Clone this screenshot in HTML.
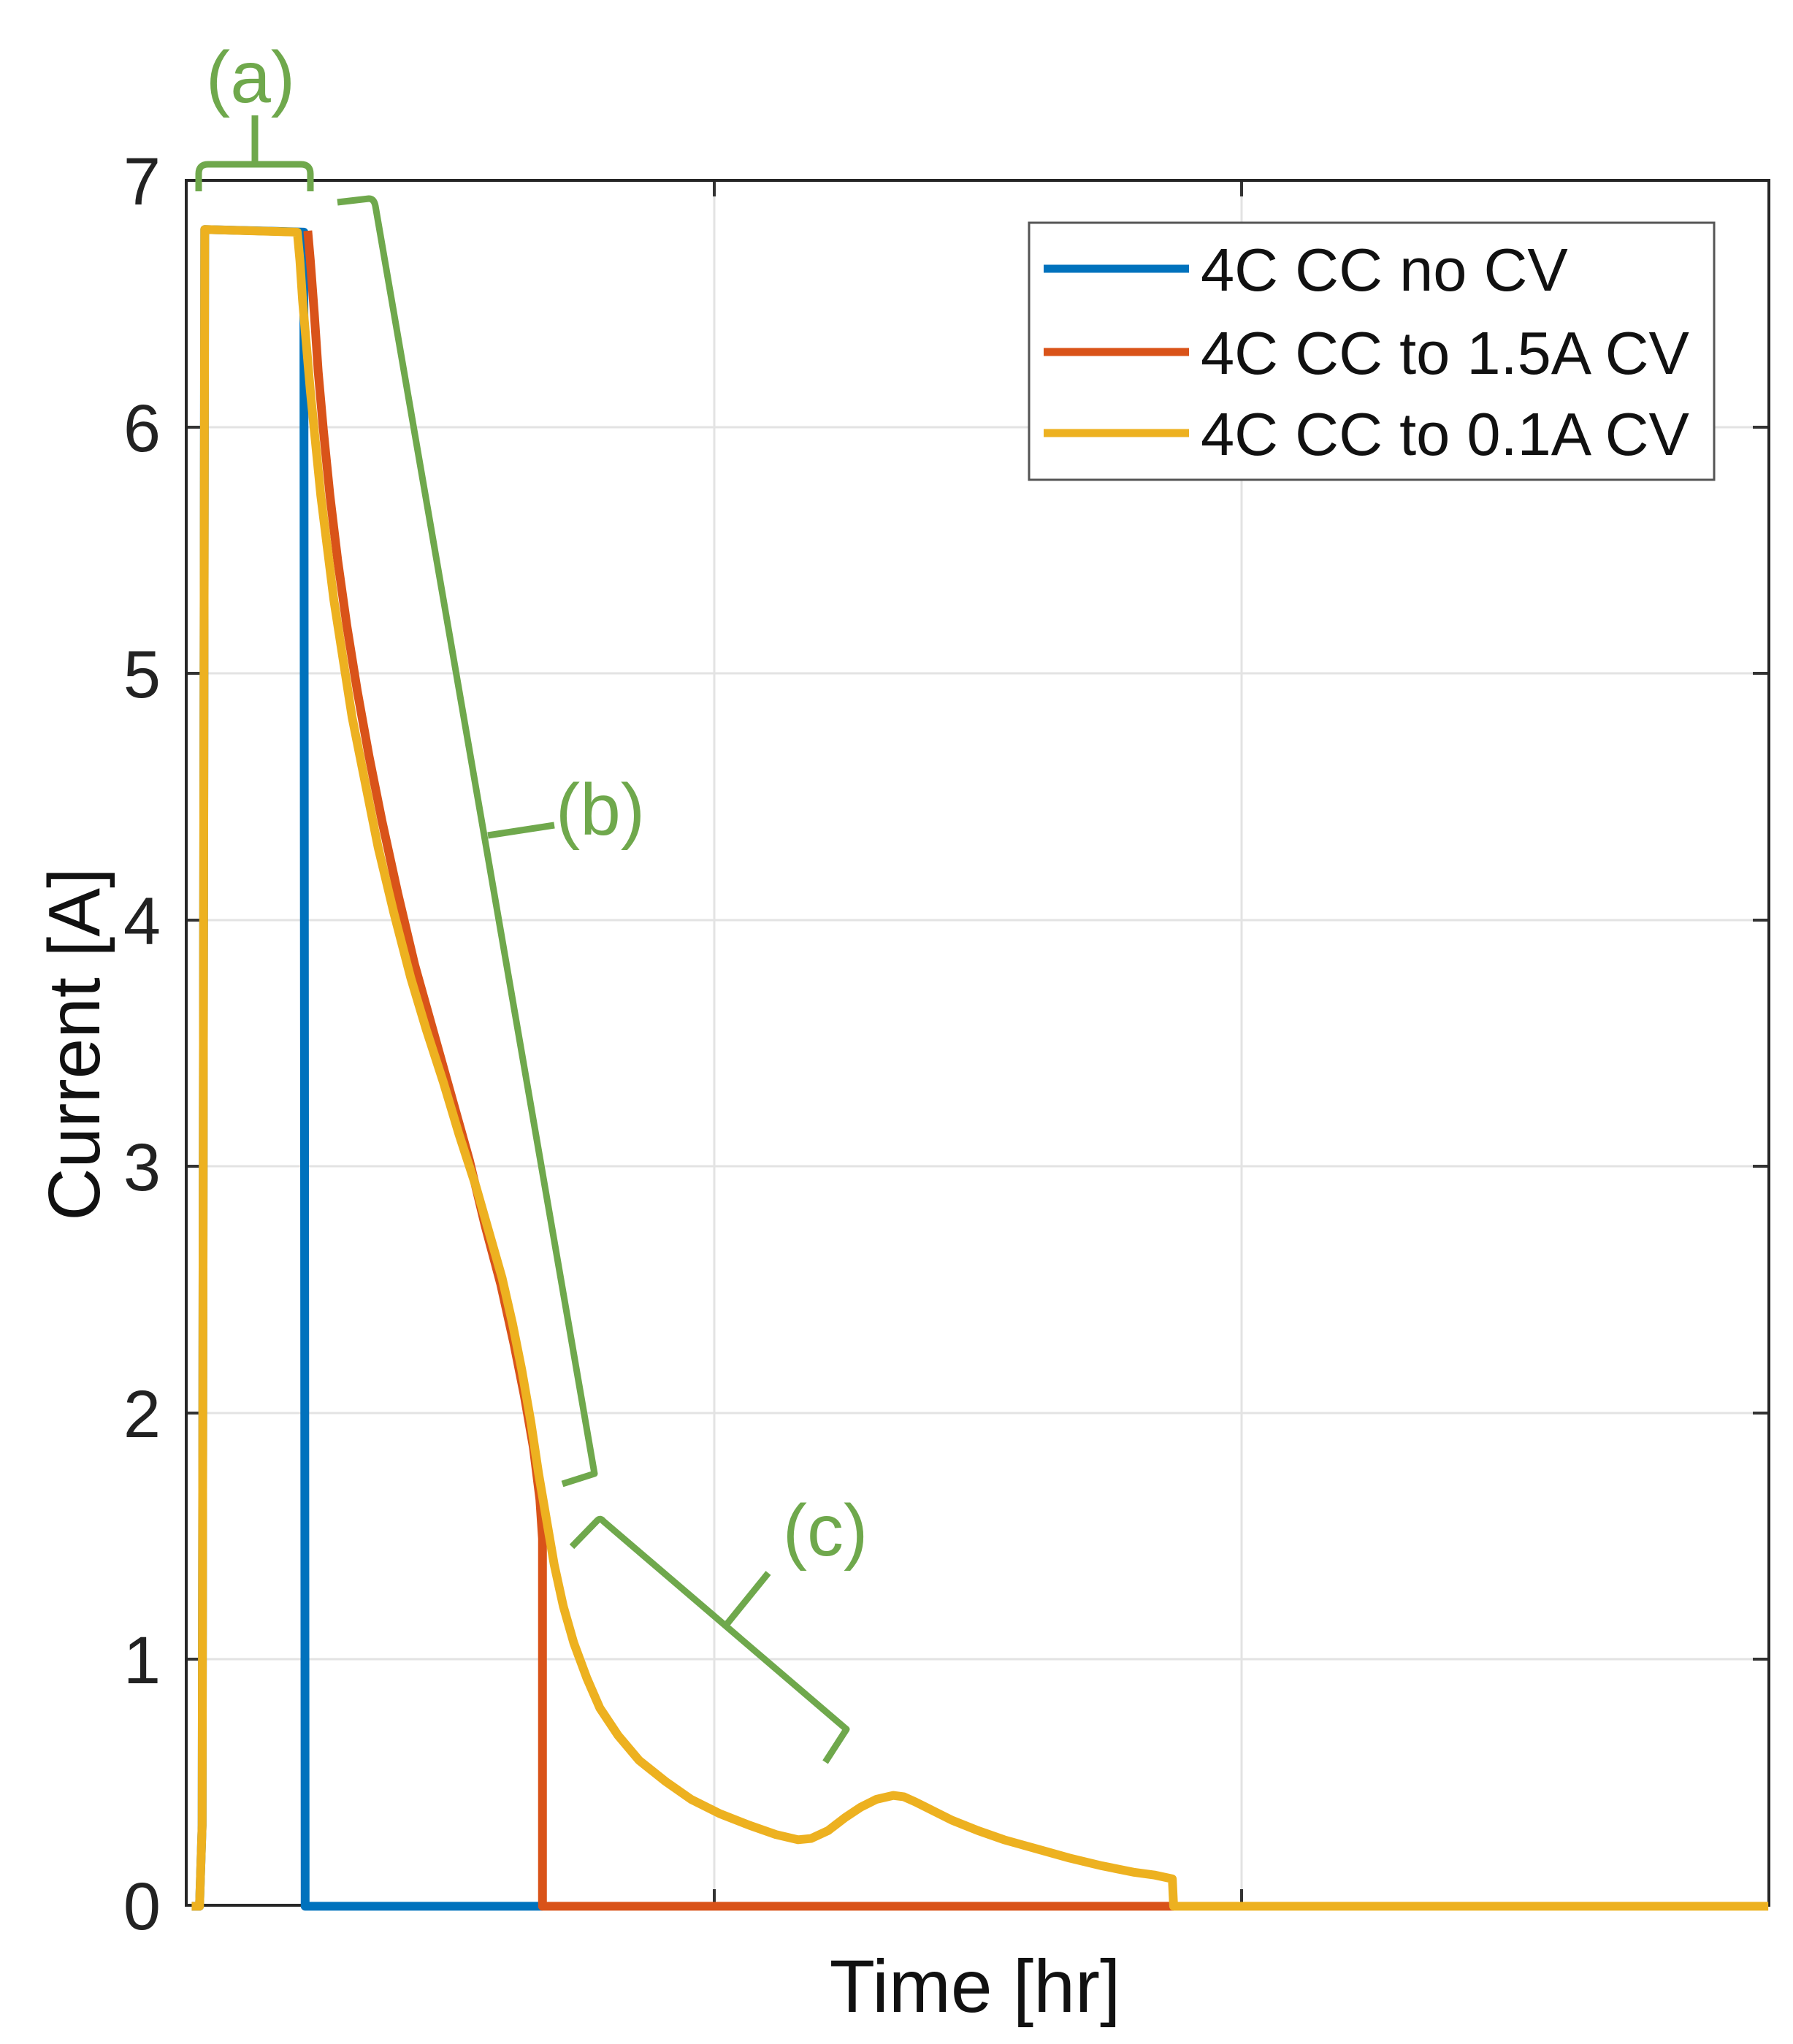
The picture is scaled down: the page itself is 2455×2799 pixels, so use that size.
<!DOCTYPE html>
<html><head><meta charset="utf-8"><style>
html,body{margin:0;padding:0;background:#fff;}
svg{display:block;}
text{font-family:"Liberation Sans",Arial,sans-serif;}
</style></head><body>
<svg width="2455" height="2799" viewBox="0 0 2455 2799" xmlns="http://www.w3.org/2000/svg">
<rect width="2455" height="2799" fill="#fff"/>
<g stroke="#e3e3e3" stroke-width="3">
<line x1="255" x2="2422" y1="2272" y2="2272"/>
<line x1="255" x2="2422" y1="1935" y2="1935"/>
<line x1="255" x2="2422" y1="1597" y2="1597"/>
<line x1="255" x2="2422" y1="1260" y2="1260"/>
<line x1="255" x2="2422" y1="922" y2="922"/>
<line x1="255" x2="2422" y1="585" y2="585"/>
<line x1="978" x2="978" y1="247" y2="2609"/>
<line x1="1700" x2="1700" y1="247" y2="2609"/>
</g>
<g stroke="#333" stroke-width="4">
<line x1="255" x2="277" y1="2272" y2="2272"/><line x1="2400" x2="2422" y1="2272" y2="2272"/>
<line x1="255" x2="277" y1="1935" y2="1935"/><line x1="2400" x2="2422" y1="1935" y2="1935"/>
<line x1="255" x2="277" y1="1597" y2="1597"/><line x1="2400" x2="2422" y1="1597" y2="1597"/>
<line x1="255" x2="277" y1="1260" y2="1260"/><line x1="2400" x2="2422" y1="1260" y2="1260"/>
<line x1="255" x2="277" y1="922" y2="922"/><line x1="2400" x2="2422" y1="922" y2="922"/>
<line x1="255" x2="277" y1="585" y2="585"/><line x1="2400" x2="2422" y1="585" y2="585"/>
<line x1="978" x2="978" y1="247" y2="269"/><line x1="978" x2="978" y1="2587" y2="2609"/>
<line x1="1700" x2="1700" y1="247" y2="269"/><line x1="1700" x2="1700" y1="2587" y2="2609"/>
</g>
<rect x="255" y="247" width="2167" height="2362" fill="none" stroke="#262626" stroke-width="4"/>
<g font-size="92" fill="#222" text-anchor="end">
<text x="220" y="2642">0</text>
<text x="220" y="2305">1</text>
<text x="220" y="1968">2</text>
<text x="220" y="1630">3</text>
<text x="220" y="1293">4</text>
<text x="220" y="955">5</text>
<text x="220" y="618">6</text>
<text x="220" y="280">7</text>
</g>
<text x="1335" y="2755" font-size="102" text-anchor="middle" fill="#111">Time [hr]</text>
<text transform="translate(136,1430) rotate(-90)" font-size="100" text-anchor="middle" fill="#111">Current [A]</text>
<g transform="scale(1.7855)" fill="none" stroke-linejoin="round" stroke-linecap="butt">
<polyline vector-effect="non-scaling-stroke" stroke="#0072BD" stroke-width="12" points="147,1462 153,1462 155,1400 157,176 233,178 234,1462 416,1462"/>
<polyline vector-effect="non-scaling-stroke" stroke="#D95319" stroke-width="12" points="236,177 238,200 241,240 244,285 248,330 253,380 259,430 266,480 274,530 283,580 293,630 305,685 318,740 332,790 346,840 360,890 372,940 384,985 394,1030 402,1070 409,1110 414,1150 416,1180 416,1462 900,1462"/>
<polyline vector-effect="non-scaling-stroke" stroke="#EDB120" stroke-width="12" points="147,1462 153,1462 155,1400 157,176 228,178 230,200 232,230 235,265 238,300 242,340 246,380 251,420 256,460 263,505 270,550 280,600 290,650 302,700 315,750 327,790 340,830 352,870 365,910 375,945 385,980 393,1015 400,1050 407,1090 413,1130 419,1165 425,1200 432,1232 440,1260 450,1287 460,1310 474,1331 490,1350 510,1366 530,1380 552,1391 575,1400 595,1407 612,1411 622,1410 635,1404 648,1394 660,1386 672,1380 685,1377 693,1378 702,1382 716,1389 730,1396 750,1404 770,1411 795,1418 820,1425 845,1431 870,1436 885,1438 899,1441 900,1462 1356,1462"/>
</g>
<g fill="none" stroke="#6fa84c" stroke-width="9" stroke-linejoin="round">
<path d="M272,262 L272,238 Q272,225 285,225 L412,225 Q425,225 425,238 L425,262"/>
<line x1="349" y1="225" x2="349" y2="158"/>
<path d="M462,277 L505,272 Q512,272 514,282 L814,2018 L770,2032"/>
<path d="M668,1144 L759,1130"/>
<path d="M783,2118 L818,2082 Q822,2078 826,2083 L1159,2368 L1130,2413"/>
<path d="M992,2228 L1052,2154"/>
</g>
<g fill="#6fa84c" font-size="100" text-anchor="middle">
<text x="343" y="140">(a)</text>
<text x="822" y="1143">(b)</text>
<text x="1130" y="2130">(c)</text>
</g>
<rect x="1409" y="305" width="938" height="352" fill="#fff" stroke="#555" stroke-width="3"/>
<line x1="1429" x2="1628" y1="368" y2="368" stroke="#0072BD" stroke-width="11"/>
<line x1="1429" x2="1628" y1="482" y2="482" stroke="#D95319" stroke-width="11"/>
<line x1="1429" x2="1628" y1="593" y2="593" stroke="#EDB120" stroke-width="11"/>
<g font-size="83" fill="#111">
<text x="1644" y="398">4C CC no CV</text>
<text x="1644" y="512">4C CC to 1.5A CV</text>
<text x="1644" y="623">4C CC to 0.1A CV</text>
</g>
</svg>
</body></html>
